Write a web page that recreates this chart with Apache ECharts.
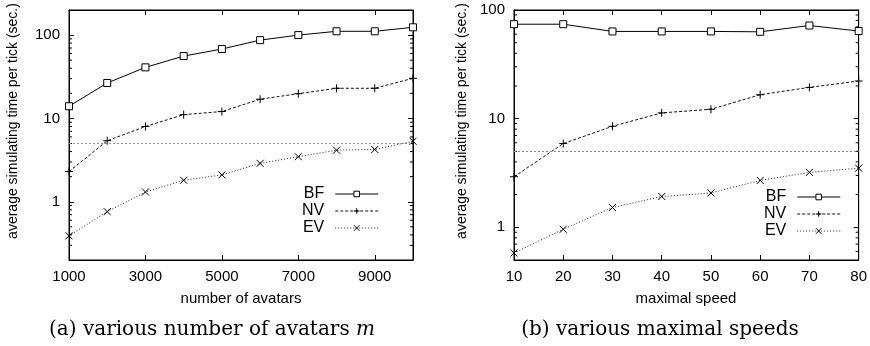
<!DOCTYPE html>
<html>
<head>
<meta charset="utf-8">
<script src="https://cdn.jsdelivr.net/npm/echarts@6/dist/echarts.min.js"></script>
<style>html,body{margin:0;padding:0;background:#fff}#c{width:870px;height:346px}</style>
</head>
<body>
<div id="c"></div>
<script>
// ---- data ----
const avatars = [1000, 2000, 3000, 4000, 5000, 6000, 7000, 8000, 9000, 10000];
const bfAvatars = [14, 26.6, 41, 56, 68, 87, 100, 111, 111, 124];
const nvAvatars = [2.3, 5.4, 8.0, 11.1, 12.1, 17.0, 19.8, 23.0, 23.0, 30.3];
const evAvatars = [0.39, 0.76, 1.31, 1.81, 2.1, 2.89, 3.47, 4.16, 4.24, 5.32];

const speeds = [10, 20, 30, 40, 50, 60, 70, 80];
const bfSpeeds = [74, 74, 63.5, 63.5, 63.5, 63, 72, 64];
const nvSpeeds = [2.92, 5.9, 8.5, 11.3, 12.2, 16.6, 19.4, 22.2];
const evSpeeds = [0.58, 0.96, 1.52, 1.92, 2.07, 2.70, 3.2, 3.5];

const threshold = 5;
const seriesNames = ['BF', 'NV', 'EV'];
const yTitle = 'average simulating time per tick (sec.)';
const xTitleA = 'number of avatars';
const xTitleB = 'maximal speed';
const captionA = '(a) various number of avatars ';
const captionB = '(b) various maximal speeds';
const captionVar = 'm';

// ---- chart ----
const SANS = 'Liberation Sans';
const chart = echarts.init(document.getElementById('c'), null, {renderer: 'canvas'});

function pair(x, y) { return x.map((v, i) => [v, y[i]]); }

function yLabelFmt(v) {
  const l = Math.log10(v);
  return Math.abs(l - Math.round(l)) < 1e-6 ? String(Math.round(v)) : '';
}

function minorValues(lo, hi) {
  const out = [];
  for (let e = -2; e <= 3; e++) {
    for (let m = 2; m <= 9; m++) {
      const v = m * Math.pow(10, e);
      if (v > lo * 1.0001 && v < hi * 0.9999) out.push(v);
    }
  }
  return out;
}

const grids = [
  {xMin: 1000, xMax: 10000, xInt: 2000, yMin: 0.2, yMax: 200, showMaxX: false, showMaxY: false},
  {xMin: 10, xMax: 80, xInt: 10, yMin: 0.5, yMax: 100, showMaxX: true, showMaxY: true}
];

const xAxes = [], yAxes = [], series = [];
grids.forEach((g, gi) => {
  ['bottom', 'top'].forEach((pos, k) => {
    xAxes.push({
      gridIndex: gi, type: 'value', position: pos, min: g.xMin, max: g.xMax, interval: g.xInt,
      axisLine: {show: true, onZero: false, lineStyle: {color: '#000', width: 1}},
      axisTick: {show: true, inside: true, length: 5, lineStyle: {color: '#000'}},
      axisLabel: {show: k === 0, margin: 9, color: '#000', fontFamily: SANS, fontSize: 15,
                  showMaxLabel: g.showMaxX, showMinLabel: true, formatter: v => String(v)},
      splitLine: {show: false}
    });
  });
  ['left', 'right'].forEach((pos, k) => {
    yAxes.push({
      gridIndex: gi, type: 'log', logBase: 10, position: pos, min: g.yMin, max: g.yMax,
      axisLine: {show: true, onZero: false, lineStyle: {color: '#000', width: 1}},
      axisTick: {show: true, inside: true, length: 5, lineStyle: {color: '#000'}},
      axisLabel: {show: k === 0, margin: 9, color: '#000', fontFamily: SANS, fontSize: 15,
                  showMinLabel: false, showMaxLabel: g.showMaxY, formatter: yLabelFmt},
      splitLine: {show: false}
    });
  });
});

const sets = [
  {x: avatars, bf: bfAvatars, nv: nvAvatars, ev: evAvatars},
  {x: speeds, bf: bfSpeeds, nv: nvSpeeds, ev: evSpeeds}
];

sets.forEach((s, gi) => {
  const xi = gi * 2, yi = gi * 2;
  series.push({
    name: seriesNames[0], type: 'line', xAxisIndex: xi, yAxisIndex: yi, data: pair(s.x, s.bf),
    symbol: 'rect', symbolSize: 7, clip: false,
    itemStyle: {color: '#fff', borderColor: '#000', borderWidth: 1},
    lineStyle: {color: '#000', width: 1, type: 'solid'},
    markLine: {silent: true, symbol: 'none', label: {show: false},
               lineStyle: {color: '#8a8a8a', width: 1, type: [2, 2]},
               data: [{yAxis: threshold}]}
  });
  series.push({
    name: seriesNames[1], type: 'line', xAxisIndex: xi, yAxisIndex: yi, data: pair(s.x, s.nv),
    symbol: 'path://M0,5L10,5M5,0L5,10', symbolSize: 8, clip: false,
    itemStyle: {color: '#000', borderColor: '#000', borderWidth: 1},
    lineStyle: {color: '#111', width: 1, type: [3, 2]}
  });
  series.push({
    name: seriesNames[2], type: 'line', xAxisIndex: xi, yAxisIndex: yi, data: pair(s.x, s.ev),
    symbol: 'path://M0,0L10,10M10,0L0,10', symbolSize: 7, clip: false,
    itemStyle: {color: '#000', borderColor: '#000', borderWidth: 1},
    lineStyle: {color: '#222', width: 1, type: [1, 2]}
  });
  const g = grids[gi];
  series.push({
    type: 'custom', xAxisIndex: xi, yAxisIndex: yi, silent: true, clip: false,
    data: minorValues(g.yMin, g.yMax).map(v => [g.xMin, v]),
    encode: {x: 0, y: 1},
    renderItem: function (params, api) {
      const v = api.value(1);
      const p1 = api.coord([g.xMin, v]);
      const p2 = api.coord([g.xMax, v]);
      return {type: 'group', children: [
        {type: 'line', shape: {x1: p1[0], y1: p1[1], x2: p1[0] + 3, y2: p1[1]}, style: {stroke: '#000', lineWidth: 1}},
        {type: 'line', shape: {x1: p2[0], y1: p2[1], x2: p2[0] - 3, y2: p2[1]}, style: {stroke: '#000', lineWidth: 1}}
      ]};
    }
  });
});

function legendAt(left, top) {
  return {
    data: seriesNames, orient: 'vertical', align: 'right', left: left, top: top,
    itemWidth: 43, itemHeight: 7, itemGap: 1, selectedMode: false,
    lineStyle: {width: 1},
    itemStyle: {borderWidth: 1},
    textStyle: {fontFamily: SANS, fontSize: 16, color: '#000', padding: [0, 6, 0, 0]}
  };
}

const option = {
  animation: false,
  backgroundColor: '#fff',
  grid: [
    {left: 69, right: 870 - 413, top: 10, bottom: 346 - 260, show: true, borderColor: '#000', borderWidth: 1, backgroundColor: 'transparent'},
    {left: 514, right: 870 - 859, top: 10, bottom: 346 - 260, show: true, borderColor: '#000', borderWidth: 1, backgroundColor: 'transparent'}
  ],
  xAxis: xAxes,
  yAxis: yAxes,
  legend: [legendAt(297, 181), legendAt(759, 184)],
  series: series,
  graphic: [
    {type: 'text', x: 13, y: 121, rotation: Math.PI / 2,
     style: {text: yTitle, fontFamily: SANS, fontSize: 14, fill: '#000', align: 'center', verticalAlign: 'middle'}},
    {type: 'text', x: 462, y: 121, rotation: Math.PI / 2,
     style: {text: yTitle, fontFamily: SANS, fontSize: 14, fill: '#000', align: 'center', verticalAlign: 'middle'}},
    {type: 'text', x: 241, y: 299,
     style: {text: xTitleA, fontFamily: SANS, fontSize: 15, fill: '#000', align: 'center', verticalAlign: 'middle'}},
    {type: 'text', x: 686, y: 299,
     style: {text: xTitleB, fontFamily: SANS, fontSize: 15, fill: '#000', align: 'center', verticalAlign: 'middle'}},
    {type: 'text', x: 212, y: 330,
     style: {text: '{n|' + captionA + '}{i|' + captionVar + '}', align: 'center', verticalAlign: 'middle',
             rich: {n: {fontFamily: 'DejaVu Serif', fontSize: 20, fill: '#000', color: '#000'},
                    i: {fontFamily: 'DejaVu Serif', fontStyle: 'italic', fontSize: 20, fill: '#000', color: '#000'}}}},
    {type: 'text', x: 660, y: 330,
     style: {text: captionB, fontFamily: 'DejaVu Serif', fontSize: 20, fill: '#000', align: 'center', verticalAlign: 'middle'}}
  ]
};
chart.setOption(option);
</script>
</body>
</html>
